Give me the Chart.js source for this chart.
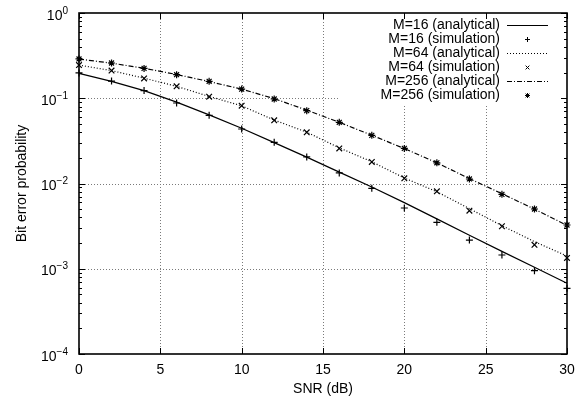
<!DOCTYPE html>
<html>
<head>
<meta charset="utf-8">
<script src="https://cdn.jsdelivr.net/npm/chart.js@4/dist/chart.umd.min.js"></script>
<style>
  html, body { margin: 0; padding: 0; background: #fff; }
  #wrap { width: 579px; height: 401px; }
</style>
</head>
<body>
<div id="wrap"><canvas id="ber-chart"></canvas></div>
<script>
// values
const snr = [0, 2, 4, 6, 8, 10, 12, 14, 16, 18, 20, 22, 24, 26, 28, 30];

const m16Analytical = [0.196, 0.158, 0.123, 0.090, 0.0638, 0.0444, 0.0302, 0.0204, 0.0136, 0.0091, 0.00596, 0.00385, 0.00247, 0.0016, 0.00104, 0.000675];
const m16Simulation = [0.198, 0.159, 0.123, 0.088, 0.063, 0.0436, 0.0304, 0.0205, 0.0133, 0.00877, 0.00516, 0.0035, 0.00217, 0.00145, 0.00095, 0.00059];

const m64Analytical = [0.245, 0.211, 0.172, 0.138, 0.105, 0.0815, 0.0555, 0.040, 0.0262, 0.0180, 0.0116, 0.0080, 0.00507, 0.0032, 0.00208, 0.00141];
const m64Simulation = [0.245, 0.211, 0.171, 0.138, 0.1044, 0.0818, 0.0551, 0.0398, 0.0258, 0.0179, 0.0115, 0.0081, 0.0048, 0.00315, 0.00191, 0.00134];

const m256Analytical = [0.288, 0.258, 0.225, 0.190, 0.157, 0.128, 0.099, 0.0725, 0.0522, 0.0368, 0.0257, 0.0175, 0.0114, 0.0076, 0.0050, 0.00323];
const m256Simulation = [0.289, 0.259, 0.224, 0.189, 0.158, 0.128, 0.098, 0.0715, 0.0522, 0.0367, 0.0258, 0.0175, 0.0113, 0.00746, 0.00502, 0.00326];

const xTicks = [0, 5, 10, 15, 20, 25, 30];
const yExponents = [0, -1, -2, -3, -4];
const legendLabels = [
    'M=16 (analytical)', 'M=16 (simulation)',
    'M=64 (analytical)', 'M=64 (simulation)',
    'M=256 (analytical)', 'M=256 (simulation)'
];

const FONT = '"Liberation Sans", Arial, Helvetica, sans-serif';

function toPoints(vals) {
    return snr.map((x, i) => ({ x: x, y: vals[i] }));
}

function lineSet(label, vals, dash) {
    return {
        label: label,
        data: toPoints(vals),
        borderColor: '#000',
        borderWidth: 1.2,
        borderDash: dash,
        pointRadius: 0,
        fill: false,
        tension: 0,
        clip: 6
    };
}

function markerSet(label, vals, style, radius) {
    return {
        label: label,
        data: toPoints(vals),
        showLine: false,
        borderColor: '#000',
        backgroundColor: '#000',
        pointStyle: style,
        pointRadius: radius,
        pointBorderWidth: 1.2,
        clip: 6
    };
}

// small marker shapes for the key
function drawMarker(ctx, style, cx, cy, r) {
    ctx.beginPath();
    if (style === 'cross' || style === 'star') {
        ctx.moveTo(cx - r, cy); ctx.lineTo(cx + r, cy);
        ctx.moveTo(cx, cy - r); ctx.lineTo(cx, cy + r);
    }
    if (style === 'crossRot' || style === 'star') {
        const d = r * 0.75;
        ctx.moveTo(cx - d, cy - d); ctx.lineTo(cx + d, cy + d);
        ctx.moveTo(cx - d, cy + d); ctx.lineTo(cx + d, cy - d);
    }
    ctx.stroke();
}

const legendKeys = [
    { dash: [] }, { marker: 'cross' },
    { dash: [1, 2] }, { marker: 'crossRot' },
    { dash: [5, 2, 1, 2] }, { marker: 'star' }
];

// gnuplot style frame, grid, ticks and labels
const framePlugin = {
    id: 'gnuFrame',
    beforeDatasetsDraw(chart) {
        const { ctx, chartArea: a, scales: { x, y } } = chart;
        ctx.save();

        // dotted grid
        ctx.strokeStyle = '#7a7a7a';
        ctx.lineWidth = 1;
        ctx.setLineDash([1, 2]);
        xTicks.slice(1, -1).forEach(v => {
            const px = Math.round(x.getPixelForValue(v)) + 0.5;
            ctx.beginPath(); ctx.moveTo(px, a.top); ctx.lineTo(px, a.bottom); ctx.stroke();
        });
        yExponents.slice(1, -1).forEach(e => {
            const py = Math.round(y.getPixelForValue(Math.pow(10, e))) + 0.5;
            ctx.beginPath(); ctx.moveTo(a.left, py); ctx.lineTo(a.right, py); ctx.stroke();
        });
        ctx.setLineDash([]);

        // key area is blanked out
        ctx.fillStyle = '#fff';
        ctx.fillRect(a.right - 228, a.top, 228, 91);

        // border
        ctx.strokeStyle = '#000';
        ctx.lineWidth = 1.6;
        ctx.strokeRect(a.left, a.top, a.right - a.left, a.bottom - a.top);

        // ticks
        ctx.lineWidth = 1;
        ctx.beginPath();
        xTicks.forEach(v => {
            const px = Math.round(x.getPixelForValue(v)) + 0.5;
            ctx.moveTo(px, a.bottom); ctx.lineTo(px, a.bottom - 6);
            ctx.moveTo(px, a.top); ctx.lineTo(px, a.top + 6);
        });
        yExponents.forEach(e => {
            const py = Math.round(y.getPixelForValue(Math.pow(10, e))) + 0.5;
            ctx.moveTo(a.left, py); ctx.lineTo(a.left + 6, py);
            ctx.moveTo(a.right, py); ctx.lineTo(a.right - 6, py);
        });
        for (let e = -4; e < 0; e++) {
            for (let k = 2; k <= 9; k++) {
                const py = Math.round(y.getPixelForValue(k * Math.pow(10, e))) + 0.5;
                ctx.moveTo(a.left, py); ctx.lineTo(a.left + 3, py);
                ctx.moveTo(a.right, py); ctx.lineTo(a.right - 3, py);
            }
        }
        ctx.stroke();

        // tick labels
        ctx.fillStyle = '#000';
        ctx.textBaseline = 'alphabetic';
        ctx.font = '14px ' + FONT;
        ctx.textAlign = 'center';
        xTicks.forEach(v => {
            ctx.fillText(String(v), x.getPixelForValue(v), a.bottom + 19.5);
        });
        yExponents.forEach(e => {
            const py = y.getPixelForValue(Math.pow(10, e));
            const sup = e === 0 ? '0' : '\u2212' + Math.abs(e);
            ctx.font = '10px ' + FONT;
            const sw = ctx.measureText(sup).width;
            ctx.textAlign = 'right';
            ctx.fillText(sup, 68, py + 0.5);
            ctx.font = '14px ' + FONT;
            ctx.fillText('10', 68 - sw, py + 6.5);
        });

        // axis titles
        ctx.font = '14px ' + FONT;
        ctx.textAlign = 'center';
        ctx.fillText('SNR (dB)', (a.left + a.right) / 2, 393);
        ctx.save();
        ctx.translate(25.5, (a.top + a.bottom) / 2);
        ctx.rotate(-Math.PI / 2);
        ctx.fillText('Bit error probability', 0, 0);
        ctx.restore();

        ctx.restore();
    },
    afterDatasetsDraw(chart) {
        const { ctx, chartArea: a } = chart;
        ctx.save();
        ctx.font = '14px ' + FONT;
        ctx.fillStyle = '#000';
        ctx.strokeStyle = '#000';
        ctx.lineWidth = 1;
        ctx.textAlign = 'right';
        ctx.textBaseline = 'middle';
        const textRight = a.right - 67;
        const x0 = a.right - 60, x1 = a.right - 19;
        legendLabels.forEach((label, i) => {
            const cy = a.top + 12 + i * 14;
            ctx.fillText(label, textRight, cy);
            const key = legendKeys[i];
            if (key.marker) {
                drawMarker(ctx, key.marker, (x0 + x1) / 2, Math.round(cy) + 0.5, 2.5);
            } else {
                ctx.setLineDash(key.dash);
                ctx.beginPath();
                ctx.moveTo(x0, Math.round(cy) + 0.5);
                ctx.lineTo(x1, Math.round(cy) + 0.5);
                ctx.stroke();
                ctx.setLineDash([]);
            }
        });
        ctx.restore();
    }
};

new Chart(document.getElementById('ber-chart'), {
    type: 'line',
    data: {
        datasets: [
            lineSet('M=16 (analytical)', m16Analytical, []),
            markerSet('M=16 (simulation)', m16Simulation, 'cross', 3.5),
            lineSet('M=64 (analytical)', m64Analytical, [1, 2]),
            markerSet('M=64 (simulation)', m64Simulation, 'crossRot', 4),
            lineSet('M=256 (analytical)', m256Analytical, [5, 2, 1, 2]),
            markerSet('M=256 (simulation)', m256Simulation, 'star', 3.5)
        ]
    },
    options: {
        responsive: true,
        maintainAspectRatio: false,
        animation: false,
        layout: { padding: { left: 0, right: 12, top: 13, bottom: 0 } },
        scales: {
            x: {
                type: 'linear',
                min: 0,
                max: 30,
                grid: { display: false },
                border: { display: false },
                ticks: { display: false },
                afterFit: s => { s.height = 47; }
            },
            y: {
                type: 'logarithmic',
                min: 1e-4,
                max: 1,
                grid: { display: false },
                border: { display: false },
                ticks: { display: false },
                afterFit: s => { s.width = 79; }
            }
        },
        plugins: {
            legend: { display: false },
            tooltip: { enabled: false }
        }
    },
    plugins: [framePlugin]
});
</script>
</body>
</html>
